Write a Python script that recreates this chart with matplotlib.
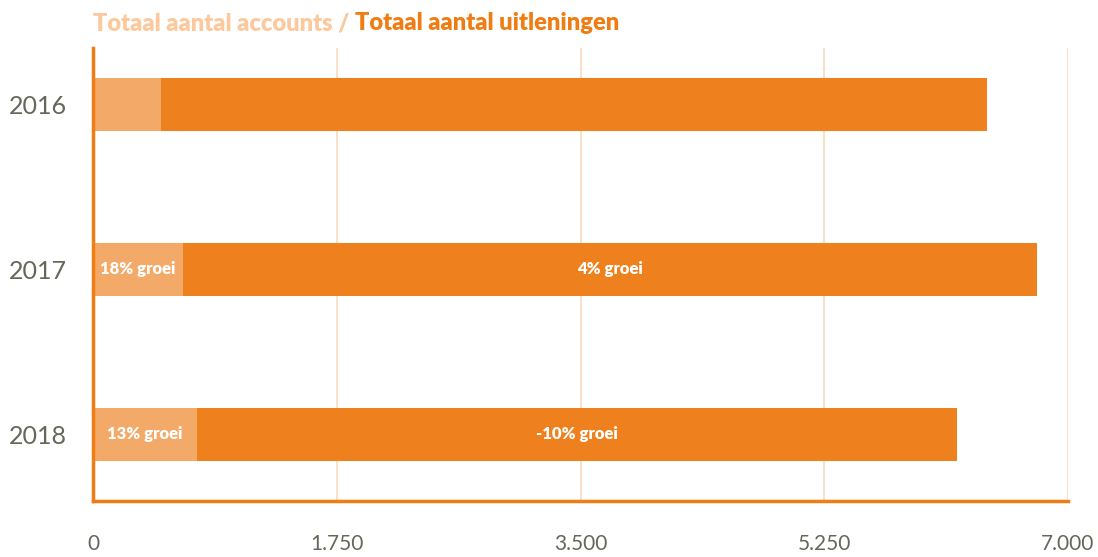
import matplotlib.pyplot as plt

years = ['2016', '2017', '2018']
accounts = [488, 646, 747]
loans = [5930, 6131, 5456]
account_labels = ['', '18% groei', '13% groei']
loan_labels = ['', '4% groei', '-10% groei']
xticks = [0, 1750, 3500, 5250, 7000]
xtick_labels = ['0', '1.750', '3.500', '5.250', '7.000']

light = '#f3aa68'
dark = '#ef801e'
axis_col = '#ef7d14'
text_col = '#66665a'

plt.rcParams['font.family'] = ['Lato', 'DejaVu Sans']

fig = plt.figure(figsize=(10.98, 5.57), dpi=100)
ax = fig.add_axes([0.0847, 0.1005, 0.888, 0.8133])

ypos = list(range(len(years)))
ax.barh(ypos, accounts, height=0.32, color=light, zorder=2)
ax.barh(ypos, loans, left=accounts, height=0.32, color=dark, zorder=2)

for i in ypos:
    if account_labels[i]:
        ax.text(accounts[i] / 2, i, account_labels[i], ha='center', va='center',
                color='white', fontsize=12, fontweight='heavy', zorder=4)
    if loan_labels[i]:
        ax.text(accounts[i] + loans[i] / 2, i, loan_labels[i], ha='center', va='center',
                color='white', fontsize=12, fontweight='heavy', zorder=4)

ax.set_xlim(0, 7000)
ax.set_ylim(2.405, -0.34)
ax.set_yticks(ypos)
ax.set_yticklabels(years, fontsize=18, color=text_col)
ax.set_xticks(xticks)
ax.set_xticklabels(xtick_labels, fontsize=15, color=text_col)
ax.tick_params(axis='both', length=0)
ax.tick_params(axis='x', pad=24)
ax.tick_params(axis='y', pad=19)

ax.grid(axis='x', color=(0.94, 0.5, 0.12), alpha=0.3, linewidth=1.2, zorder=3)
ax.set_axisbelow(False)
for s in ['top', 'right']:
    ax.spines[s].set_visible(False)
for s in ['left', 'bottom']:
    ax.spines[s].set_color(axis_col)
    ax.spines[s].set_linewidth(2.5)
    ax.spines[s].set_zorder(5)

# two-colour title
t1 = fig.text(0.0847, 0.958, 'Totaal aantal accounts / ', color='#fcc89c',
              fontsize=17, fontweight='heavy', va='center', ha='left')
fig.canvas.draw()
bb = t1.get_window_extent().transformed(fig.transFigure.inverted())
fig.text(bb.x1, 0.958, 'Totaal aantal uitleningen', color=axis_col,
         fontsize=17, fontweight='heavy', va='center', ha='left')

fig.savefig('out.png', dpi=100)
